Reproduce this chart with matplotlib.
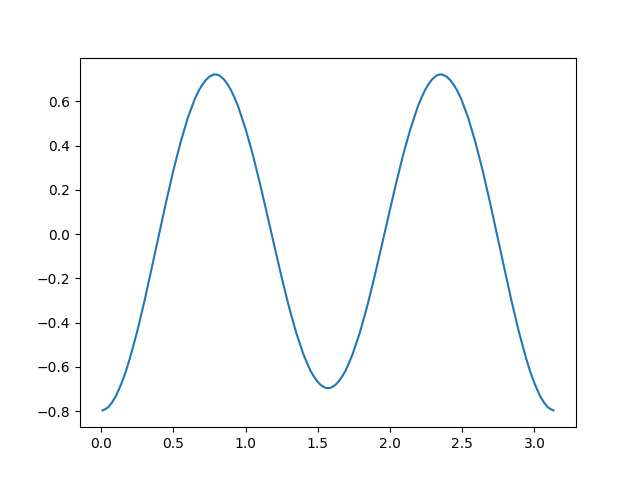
# Import libraries
import numpy as np
import matplotlib
matplotlib.use('Agg')
import matplotlib.pyplot as plt

# Values (first half: 0 .. pi/2)
x_left = [0.01, 0.025, 0.05, 0.075, 0.10, 0.125, 0.15, 0.175, 0.20, 0.25,
          0.30, 0.35, 0.40, 0.45, 0.50, 0.55, 0.60, 0.65, 0.675, 0.70,
          0.725, 0.75, 0.77, 0.785, 0.80, 0.82, 0.85, 0.875, 0.90, 0.925,
          0.95, 1.00, 1.05, 1.10, 1.15, 1.20, 1.25, 1.30, 1.35, 1.40,
          1.425, 1.45, 1.475, 1.50, 1.52, 1.54, 1.555, 1.571]
y_left = [-0.797, -0.793, -0.782, -0.762, -0.735, -0.700, -0.660, -0.613, -0.560, -0.440,
          -0.303, -0.155, -0.005, 0.145, 0.287, 0.415, 0.525, 0.613, 0.647, 0.675,
          0.696, 0.712, 0.719, 0.722, 0.721, 0.717, 0.700, 0.678, 0.650, 0.615,
          0.575, 0.476, 0.360, 0.228, 0.088, -0.055, -0.195, -0.327, -0.444, -0.542,
          -0.582, -0.618, -0.646, -0.668, -0.682, -0.690, -0.695, -0.697]

# Second half: pi/2 .. pi
x_right = [1.587, 1.602, 1.622, 1.642, 1.667, 1.692, 1.717, 1.742, 1.792, 1.842,
           1.892, 1.942, 1.992, 2.042, 2.092, 2.142, 2.192, 2.217, 2.242, 2.267,
           2.292, 2.322, 2.342, 2.357, 2.372, 2.392, 2.417, 2.442, 2.467, 2.492,
           2.542, 2.592, 2.642, 2.692, 2.742, 2.792, 2.842, 2.892, 2.942, 2.967,
           2.992, 3.017, 3.042, 3.067, 3.092, 3.117, 3.132]
y_right = [-0.695, -0.690, -0.682, -0.668, -0.646, -0.618, -0.582, -0.542, -0.444, -0.327,
           -0.195, -0.055, 0.088, 0.228, 0.360, 0.476, 0.575, 0.615, 0.650, 0.678,
           0.700, 0.717, 0.721, 0.722, 0.719, 0.712, 0.696, 0.675, 0.647, 0.613,
           0.525, 0.415, 0.287, 0.145, -0.005, -0.155, -0.303, -0.440, -0.560, -0.613,
           -0.660, -0.700, -0.735, -0.762, -0.782, -0.793, -0.797]

x = x_left + x_right
y = y_left + y_right

fig, ax = plt.subplots(figsize=(6.4, 4.8), dpi=100)
ax.plot(x, y)
plt.savefig('out.png')
